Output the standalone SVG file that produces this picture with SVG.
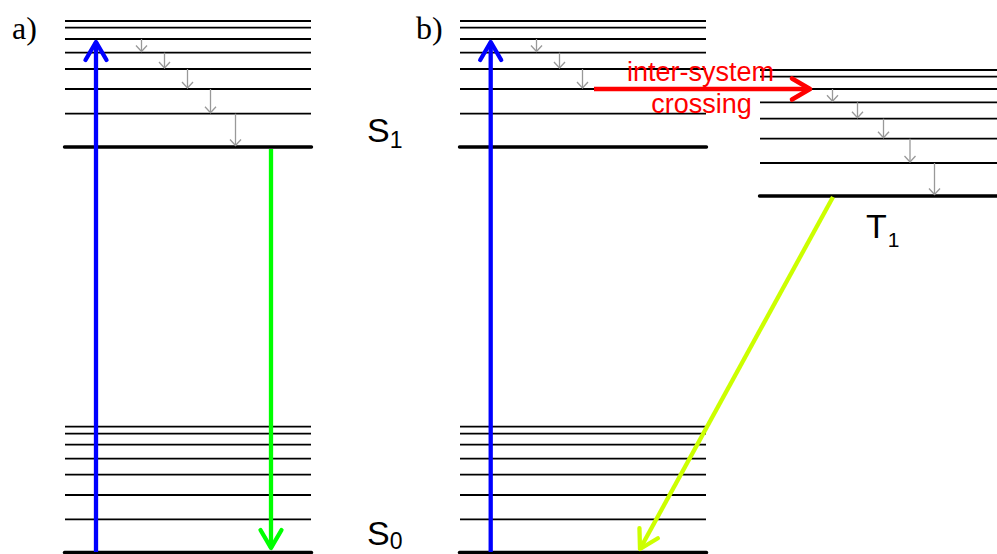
<svg xmlns="http://www.w3.org/2000/svg" width="997" height="554" viewBox="0 0 997 554">
<style>
.lv{stroke:#000;stroke-width:1.8;fill:none}
.gs{stroke:#000;stroke-width:3.4;stroke-linecap:round;fill:none}
.rl{stroke:#999;stroke-width:1.3;fill:none}
.big{fill:none;stroke-width:4.3;stroke-linejoin:round}
.lbl{font-family:"Liberation Sans",Arial,sans-serif;font-size:34px;fill:#000}
.pl{font-family:"Liberation Serif","Times New Roman",serif;font-size:32px;fill:#000}
.isc{font-family:"Liberation Sans",Arial,sans-serif;font-size:27px;fill:#f00;text-anchor:middle}
</style>
<defs>
<marker id="mg" markerUnits="userSpaceOnUse" viewBox="-10 -10 20 20" markerWidth="20" markerHeight="20" refX="0" refY="0" orient="auto" overflow="visible"><path d="M-6,-5.5 L0,0 L-6,5.5" fill="none" stroke="#999" stroke-width="1.3"/></marker>
<marker id="mb" markerUnits="userSpaceOnUse" viewBox="-25 -15 30 30" markerWidth="30" markerHeight="30" refX="0" refY="0" orient="auto" overflow="visible"><path d="M-18,-10.5 L0,0 L-18,10.5" fill="none" stroke="#00f" stroke-width="4.3" stroke-linecap="round" stroke-linejoin="round"/></marker>
<marker id="mgr" markerUnits="userSpaceOnUse" viewBox="-25 -15 30 30" markerWidth="30" markerHeight="30" refX="0" refY="0" orient="auto" overflow="visible"><path d="M-18,-10.5 L0,0 L-18,10.5" fill="none" stroke="#0f0" stroke-width="4.3" stroke-linecap="round" stroke-linejoin="round"/></marker>
<marker id="my" markerUnits="userSpaceOnUse" viewBox="-25 -15 30 30" markerWidth="30" markerHeight="30" refX="0" refY="0" orient="auto" overflow="visible"><path d="M-18,-10.5 L0,0 L-18,10.5" fill="none" stroke="#ccff00" stroke-width="4.3" stroke-linecap="round" stroke-linejoin="round"/></marker>
<marker id="mr" markerUnits="userSpaceOnUse" viewBox="-25 -15 30 30" markerWidth="30" markerHeight="30" refX="0" refY="0" orient="auto" overflow="visible"><path d="M-18,-10.5 L0,0 L-18,10.5" fill="none" stroke="#f00" stroke-width="4.6" stroke-linecap="round" stroke-linejoin="round"/></marker>
</defs>
<rect width="997" height="554" fill="#fff"/>

<g id="S1-a">
<path class="lv" d="M65,21H311M65,27.7H311M65,39H311M65,52.7H311M65,69H311M65,89H311M65,113.7H311"/>
<path class="gs" d="M64.5,147H311.5"/>
</g>
<g id="S0-a">
<path class="lv" d="M65,426.7H311M65,433.7H311M65,444.7H311M65,458.7H311M65,474.7H311M65,495H311M65,519.3H311"/>
<path class="gs" d="M64.5,552.5H311.5"/>
</g>
<g id="S1-b">
<path class="lv" d="M460,21H706M460,27.7H706M460,39H706M460,52.7H706M460,69H706M460,89H706M460,113.7H706"/>
<path class="gs" d="M459.5,147H706.5"/>
</g>
<g id="S0-b">
<path class="lv" d="M460,426.7H706M460,433.7H706M460,444.7H706M460,458.7H706M460,474.7H706M460,495H706M460,519.3H706"/>
<path class="gs" d="M459.5,552.5H706.5"/>
</g>
<g id="T1">
<path class="lv" d="M760,70H997M760,76.7H997M760,89H997M760,102.3H997M760,118.7H997M760,138.7H997M760,163H997"/>
<path class="gs" d="M759.5,196H998"/>
</g>

<g id="labels">
<text class="pl" x="12" y="38.5">a)</text>
<text class="pl" x="416" y="38.5">b)</text>
<text class="lbl" x="367" y="141.7">S<tspan font-size="23" dy="6.6">1</tspan></text>
<text class="lbl" x="367" y="545">S<tspan font-size="23" dy="3.5">0</tspan></text>
<text class="lbl" x="866" y="237.7">T<tspan font-size="21" dx="1" dy="9">1</tspan></text>
<text class="isc" x="700.5" y="81">inter-system</text>
<text class="isc" x="701.5" y="113">crossing</text>
</g>

<g id="connectors">
<path class="rl" marker-end="url(#mg)" d="M141.5,39V51.5"/>
<path class="rl" marker-end="url(#mg)" d="M164.5,52.7V68"/>
<path class="rl" marker-end="url(#mg)" d="M187.5,69V88"/>
<path class="rl" marker-end="url(#mg)" d="M210.5,89V112.7"/>
<path class="rl" marker-end="url(#mg)" d="M235.5,113.7V145.5"/>
<path class="rl" marker-end="url(#mg)" d="M536.5,39V51.5"/>
<path class="rl" marker-end="url(#mg)" d="M559.5,52.7V68"/>
<path class="rl" marker-end="url(#mg)" d="M582.5,69V88"/>
<path class="rl" marker-end="url(#mg)" d="M832.5,89V101.3"/>
<path class="rl" marker-end="url(#mg)" d="M857.5,102.3V117.7"/>
<path class="rl" marker-end="url(#mg)" d="M883.5,118.7V137.7"/>
<path class="rl" marker-end="url(#mg)" d="M910,138.7V162"/>
<path class="rl" marker-end="url(#mg)" d="M934.5,163V194.5"/>
<path class="big" stroke="#00f" marker-end="url(#mb)" d="M96,552V42"/>
<path class="big" stroke="#00f" marker-end="url(#mb)" d="M490.7,552V42"/>
<path class="big" stroke="#0f0" marker-end="url(#mgr)" d="M271,149V548"/>
<path class="big" stroke="#ccff00" marker-end="url(#my)" d="M833,197L640,549"/>
<path class="big" stroke="#f00" stroke-width="4.6" marker-end="url(#mr)" d="M594,89H810"/>
</g>
</svg>
